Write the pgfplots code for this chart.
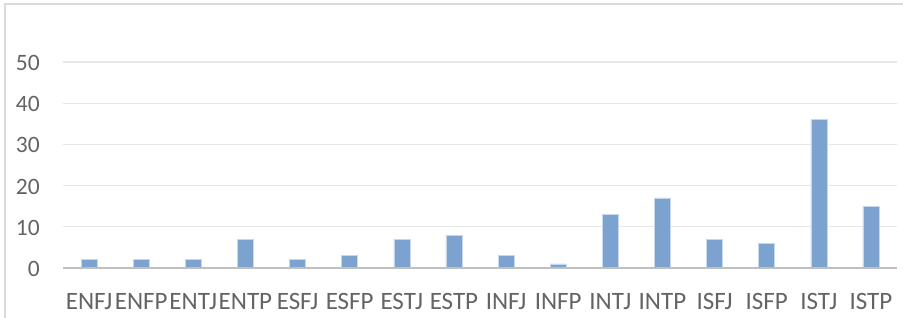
\documentclass[border=0pt]{standalone}
\usepackage{fontspec}
\setmainfont{Carlito}
\usepackage{pgfplots}
\pgfplotsset{compat=1.18}
\definecolor{barblue}{RGB}{124,162,208}
\definecolor{baredge}{RGB}{200,216,236}
\definecolor{txtgray}{RGB}{100,100,100}
\definecolor{gridgray}{RGB}{232,232,232}
\definecolor{axisgray}{RGB}{191,191,191}
\definecolor{bordergray}{RGB}{217,217,217}
\begin{document}
\begin{tikzpicture}[x=1bp,y=1bp]
\useasboundingbox (0,0) rectangle (903,317);
\draw[bordergray, line width=1.5bp] (5,-5) -- (5,313) -- (910,313);
\begin{axis}[
  at={(63bp,49bp)}, anchor=south west,
  scale only axis, width=834bp, height=206bp,
  xmin=-0.5, xmax=15.5, ymin=0, ymax=50,
  enlargelimits=false,
  axis line style={draw=none},
  major tick length=0pt,
  ymajorgrids, grid style={gridgray, line width=1.3bp},
  ytick={0,10,20,30,40,50},
  xtick={0,...,15},
  xticklabels={ENFJ,ENFP,ENTJ,ENTP,ESFJ,ESFP,ESTJ,ESTP,INFJ,INFP,INTJ,INTP,ISFJ,ISFP,ISTJ,ISTP},
  /pgf/number format/assume math mode=true,
  yticklabel style={font=\fontsize{23.5bp}{26bp}\selectfont, text=txtgray, anchor=east, inner sep=0pt, xshift=-23bp, yshift=-1bp},
  xticklabel style={font=\fontsize{25bp}{28bp}\selectfont, text=txtgray, anchor=base, inner sep=0pt, yshift=-41bp},
]
\addplot[ybar, bar width=16bp, fill=barblue, draw=baredge, line width=0.6bp] coordinates {
  (0,2) (1,2) (2,2) (3,7) (4,2) (5,3) (6,7) (7,8)
  (8,3) (9,1) (10,13) (11,17) (12,7) (13,6) (14,36) (15,15)
};
\draw[axisgray, line width=2bp] (axis cs:-0.5,0) -- (axis cs:15.5,0);
\end{axis}
\end{tikzpicture}
\end{document}
